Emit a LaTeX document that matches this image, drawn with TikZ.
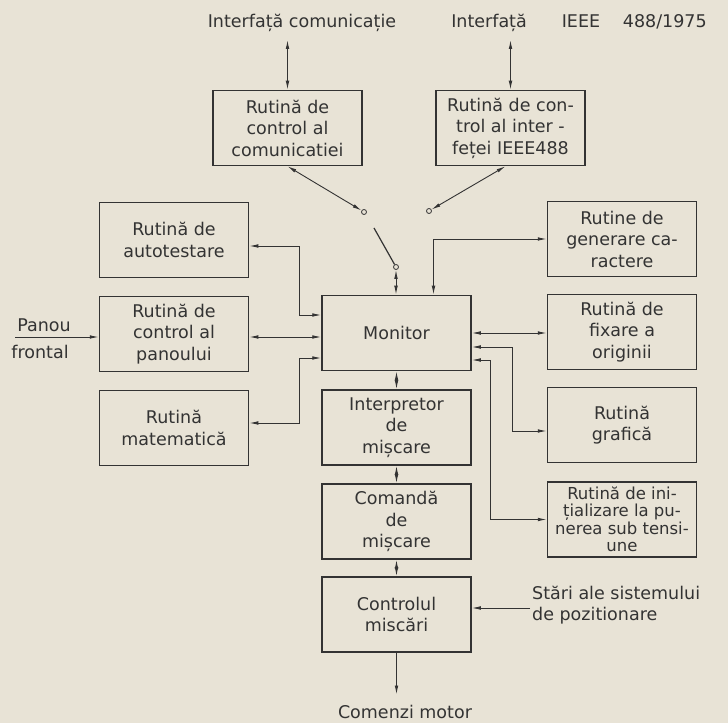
\documentclass[tikz,border=0pt]{standalone}
\usepackage{fontspec}
\setmainfont{DejaVu Sans}
\usetikzlibrary{arrows.meta,calc}
\definecolor{paper}{HTML}{E8E3D6}
\definecolor{ink}{HTML}{333333}

\begin{document}
\begin{tikzpicture}[x=1pt, y=1pt, >={Latex[length=9pt,width=3.6pt]},
    every node/.style={font=\fontsize{17.5}{21.5}\selectfont, text=ink},
    box/.style={draw=ink, line width=1.5pt, minimum width=149pt, minimum height=75pt,
        align=center, inner sep=1pt},
    wire/.style={draw=ink, line width=0.9pt},
    pin/.style={circle, draw=ink, line width=0.8pt, fill=paper, inner sep=0pt, minimum size=5pt},
    lbl/.style={inner sep=2pt}]
    \fill[paper] (0,0) rectangle (728,723);
    \useasboundingbox (0,0) rectangle (728,723);

    \node[lbl] (ifcom) at (302,700) {Interfață comunicație};
    \node[lbl] (ifieee) at (579,700) {Interfață\hspace{2em}IEEE\hspace{1.3em}488/1975};

    \node[box] (comm) at (287.5,595) {Rutină de\\control al\\comunicatiei};
    \node[box] (ieee) at (510.5,595) {Rutină de con-\\trol al inter -\\feței IEEE488};

    \node[box] (auto) at (174,483) {Rutină de\\autotestare};
    \node[box] (gen) at (622,484) {Rutine de\\generare ca-\\ractere};
    \node[box] (pan) at (174,389) {Rutină de\\control al\\panoului};
    \node[box] (mon) at (396.5,390) {Monitor};
    \node[box] (fix) at (622,391) {Rutină de\\fixare a\\originii};
    \node[box] (mat) at (174,295) {Rutină\\matematică};
    \node[box] (interp) at (396.5,295.5) {Interpretor\\de\\mișcare};
    \node[box] (graf) at (622,298) {Rutină\\grafică};
    \node[box] (cmd) at (396.5,201.5) {Comandă\\de\\mișcare};
    \node[box, font=\fontsize{16.5}{17.5}\selectfont] (init) at (622,203.5)
        {Rutină de ini-\\țializare la pu-\\nerea sub tensi-\\une};
    \node[box] (ctrl) at (396.5,108.5) {Controlul\\miscări};

    \node[lbl] (panou) at (44,398) {Panou};
    \node[lbl] (frontal) at (40,371) {frontal};
    \coordinate (panin) at (15,386);
    \node[lbl, anchor=west, align=left] (stari) at (530,118) {Stări ale sistemului\\de pozitionare};
    \node[lbl, anchor=base] (motor) at (405,5) {Comenzi motor};

    % switch between the two interfaces
    \node[pin] (swa) at (364,511) {};
    \node[pin] (swb) at (429,512) {};
    \node[pin] (swc) at (396,456) {};
    \coordinate (lever) at (374,495);

    \draw[wire,<->] (comm.north) -- ([yshift=-6pt]comm.north |- ifcom.south);
    \draw[wire,<->] (ieee.north) -- ([yshift=-6pt]ieee.north |- ifieee.south);
    \draw[wire,<->] (comm.south) -- (swa);
    \draw[wire,<->] ([xshift=-5pt]ieee.south) -- (swb);
    \draw[wire, line width=1.2pt] (lever) -- (swc);
    \draw[wire,<->] (swc) -- (swc |- mon.north);

    \draw[wire,<->] ([xshift=37pt]mon.north) |- (gen.west);
    \draw[wire,<->] ([yshift=18pt]mon.west) -- ++(-22,0) |- ([yshift=-6pt]auto.east);
    \draw[wire,->] (panin) -- (panin -| pan.west);
    \draw[wire,<->] ([yshift=-3pt]pan.east) -- ([yshift=-3pt]pan.east -| mon.west);
    \draw[wire,<->] ([yshift=-25pt]mon.west) -- ++(-22,0) |- ([yshift=5pt]mat.east);
    \draw[wire,<->] (mon.east) -- (mon.east -| fix.west);
    \draw[wire,<->] ([yshift=-14pt]mon.east) -- ++(41,0) |- ([yshift=-6pt]graf.west);
    \draw[wire,<->] ([yshift=-27pt]mon.east) -- ++(19,0) |- (init.west);

    \foreach \a/\b in {mon/interp, interp/cmd, cmd/ctrl}
        \draw[wire,<->] (\a.south) -- (\b.north);
    \draw[wire,->] ([yshift=-3pt]stari.west) -- ([yshift=-3pt]stari.west -| ctrl.east);
    \draw[wire,->] (ctrl.south) -- ([yshift=8pt]ctrl.south |- motor.north);
\end{tikzpicture}
\end{document}
